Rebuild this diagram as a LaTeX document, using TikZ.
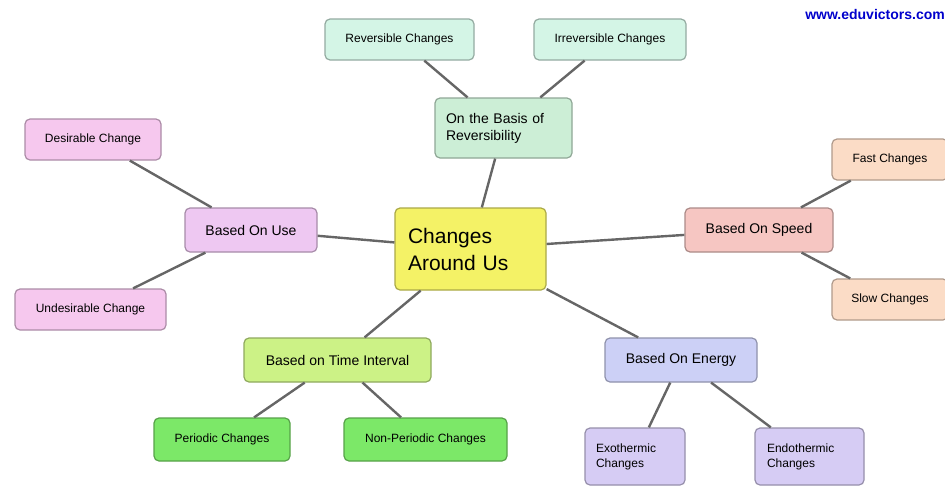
\documentclass[tikz,border=0pt]{standalone}
\usepackage{fontspec}
\setmainfont{Liberation Sans}
\begin{document}
\begin{tikzpicture}[x=1pt,y=-1pt,
 box/.style={draw=#1!70!black,fill=#1,rounded corners=5pt,line width=1.2pt,inner sep=0pt,align=center,font=\fontsize{12}{15}\selectfont},
 mid/.style={font=\fontsize{14}{17}\selectfont},
 link/.style={draw=black!60,line width=2.4pt}]
\useasboundingbox (0,0) rectangle (945,496);
\definecolor{cy}{HTML}{F4F266}
\definecolor{cg}{HTML}{CCEED6}
\definecolor{cm}{HTML}{D4F5E6}
\definecolor{cp}{HTML}{EEC8F2}
\definecolor{cpl}{HTML}{F6C8EE}
\definecolor{cs}{HTML}{F6C6C2}
\definecolor{cf}{HTML}{FBDCC6}
\definecolor{ct}{HTML}{CCF286}
\definecolor{cgg}{HTML}{7CE868}
\definecolor{cl}{HTML}{CCD0F6}
\definecolor{cll}{HTML}{D6CCF4}
\node[box=cy,minimum width=151,minimum height=82,text width=125,align=left,font=\fontsize{21}{27}\selectfont] (c) at (470.5,249) {Changes\\Around Us};
\node[box=cg,mid,minimum width=137,minimum height=60,text width=115,align=left] (rev) at (503.5,128) {On the Basis of\\Reversibility};
\node[box=cm,minimum width=149,minimum height=41] (r1) at (399.5,39.5) {Reversible Changes};
\node[box=cm,minimum width=152,minimum height=41] (r2) at (610,39.5) {Irreversible Changes};
\node[box=cp,mid,minimum width=132,minimum height=44] (use) at (251,230) {Based On Use};
\node[box=cpl,minimum width=136,minimum height=41] (u1) at (93,139.5) {Desirable Change};
\node[box=cpl,minimum width=151,minimum height=41] (u2) at (90.5,309.5) {Undesirable Change};
\node[box=cs,mid,minimum width=148,minimum height=44] (sp) at (759,230) {Based On Speed};
\node[box=cf,minimum width=116,minimum height=41] (s1) at (890,159.5) {Fast Changes};
\node[box=cf,minimum width=116,minimum height=41] (s2) at (890,299.5) {Slow Changes};
\node[box=ct,mid,minimum width=187,minimum height=44] (ti) at (337.5,360) {Based on Time Interval};
\node[box=cgg,minimum width=136,minimum height=43] (t1) at (222,439.5) {Periodic Changes};
\node[box=cgg,minimum width=163,minimum height=43] (t2) at (425.5,439.5) {Non-Periodic Changes};
\node[box=cl,mid,minimum width=152,minimum height=44] (en) at (681,360) {Based On Energy};
\node[box=cll,minimum width=100,minimum height=57,text width=78,align=left] (e1) at (635,456.5) {Exothermic\\Changes};
\node[box=cll,minimum width=109,minimum height=57,text width=85,align=left] (e2) at (809.5,456.5) {Endothermic\\Changes};
\node[font=\bfseries\fontsize{14}{16}\selectfont,text=blue!80!black,anchor=east,inner sep=0pt] (url) at (945,14) {www.eduvictors.com};
\draw[link] (rev) -- (c) (use) -- (c) (sp) -- (c) (ti) -- (c) (en) -- (c);
\draw[link] (r1) -- (rev) (r2) -- (rev) (u1) -- (use) (u2) -- (use) (s1) -- (sp) (s2) -- (sp)
 (t1) -- (ti) (t2) -- (ti) (e1) -- (en) (e2) -- (en);
\end{tikzpicture}
\end{document}
